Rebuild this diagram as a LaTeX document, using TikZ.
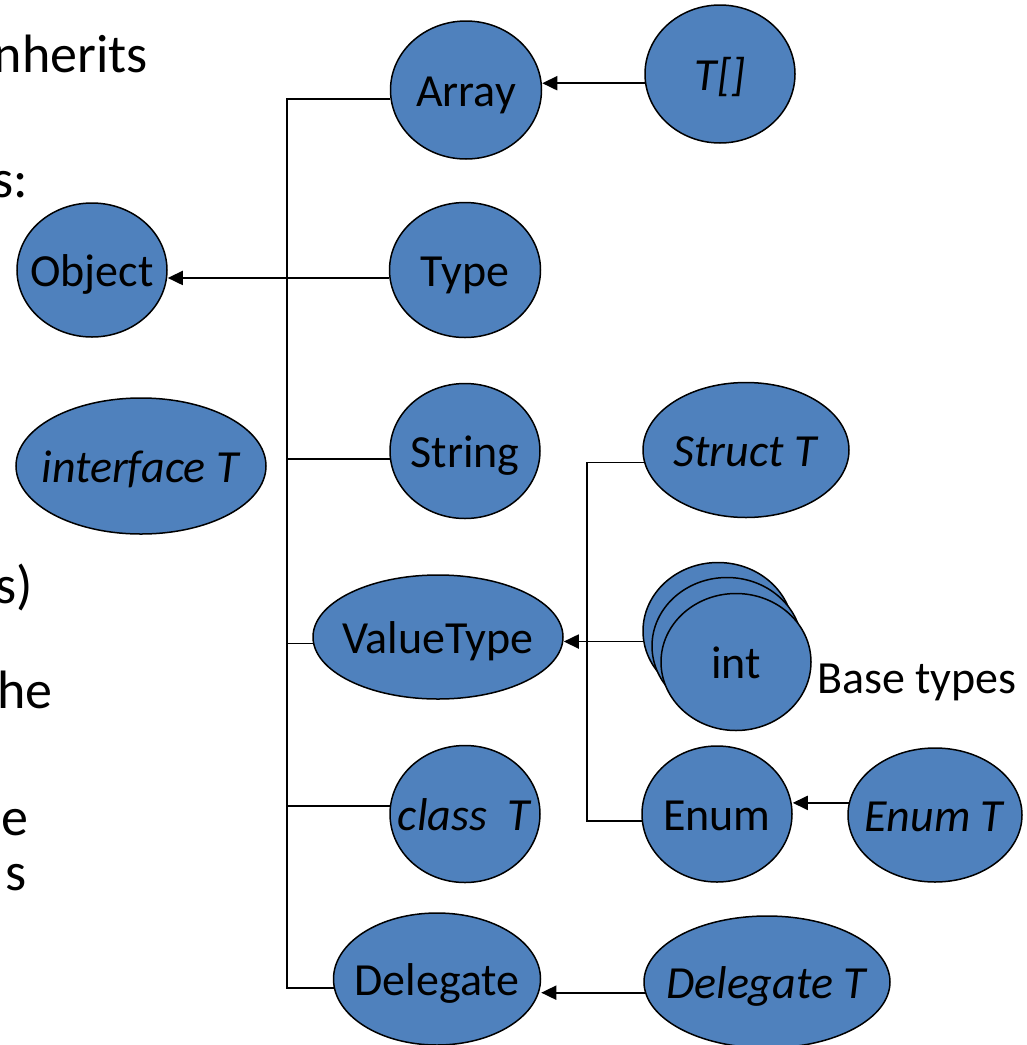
\documentclass[tikz,border=0pt]{standalone}
\usepackage{fontspec}
\setmainfont{Carlito}
\usetikzlibrary{arrows.meta,shapes.geometric}
\definecolor{blobfill}{HTML}{4F81BD}
\begin{document}
\begin{tikzpicture}[x=1pt,y=-1pt,
  blob/.style={ellipse, draw=black, line width=1.5pt, fill=blobfill, inner sep=0pt},
  sz/.style 2 args={minimum width=#1pt, minimum height=#2pt},
  lbl/.style={font=\fontsize{46}{55}\selectfont, text height=32pt, text depth=0pt, inner sep=0pt},
  side/.style={font=\fontsize{54}{64}\selectfont, inner sep=0pt},
  conn/.style={draw=black, line width=1.8pt},
  arr/.style={conn, -{Triangle[length=15pt,width=14pt]}}]
\useasboundingbox (0,0) rectangle (1027,1045);

% cut-off lines of body text on the left
\node[side, anchor=base east] (txa) at (148,72)  {nherits};
\node[side, anchor=base east] (txb) at (28,197)  {s:};
\node[side, anchor=base east] (txc) at (33,603)  {s)};
\node[side, anchor=base east] (txd) at (53,708)  {he};
\node[side, anchor=base east] (txe) at (29,835)  {e};
\node[side, anchor=base east] (txf) at (27,890)  {s};

% type nodes
\node[blob, sz={150}{134}, label={[lbl]center:Object}] (object) at (92,270) {};
\node[blob, sz={250}{136}, label={[lbl]center:\textit{interface T}}] (iface) at (141,466) {};

\node[blob, sz={151}{138}, label={[lbl]center:Array}] (array) at (466,90) {};
\node[blob, sz={150}{138}, label={[lbl]center:{\textit{T[]}}}] (tarr) at (720,74) {};
\node[blob, sz={151}{135}, label={[lbl]center:Type}] (type) at (465,270) {};
\node[blob, sz={150}{135}, label={[lbl]center:String}] (string) at (465,451) {};
\node[blob, sz={250}{124}, label={[lbl]center:ValueType}] (vt) at (438,637) {};
\node[blob, sz={150}{137}, label={[lbl]center:\textit{class\ \ T}}] (classT) at (465,814) {};
\node[blob, sz={207}{132}, label={[lbl]center:Delegate}] (delegate) at (437,979) {};
\node[blob, sz={246}{132}, label={[lbl]center:\textit{Delegate T}}] (delT) at (767,982) {};

\node[blob, sz={206}{135}, label={[lbl]center:\textit{Struct T}}] (struct) at (746,450) {};
\node[blob, sz={150}{137}] (int1) at (718,631) {};
\node[blob, sz={150}{137}] (int2) at (727,646) {};
\node[blob, sz={150}{137}, label={[lbl]center:int}] (int3) at (736,662) {};
\node[lbl, anchor=base west, text height=, text depth=] (base) at (817,693) {Base types};
\node[blob, sz={150}{136}, label={[lbl]center:Enum}] (enum) at (717,814) {};
\node[blob, sz={174}{134}, label={[lbl]center:\textit{Enum T}}] (enumT) at (935,815) {};

% main trunk
\coordinate (trunk) at (287,0);
\draw[conn] (array.187) -- (array.187 -| trunk) |- (delegate.185);
\draw[conn] (string.186) -- (string.186 -| trunk);
\draw[conn] (vt.183) -- (vt.183 -| trunk);
\draw[conn] (classT.174) -- (classT.174 -| trunk);
\draw[arr] (type.186) -- (type.186 -| object.east);

% value-type trunk
\coordinate (sub) at (587,0);
\draw[conn] (struct.187) -- (struct.187 -| sub) |- (enum.185);
\draw[arr] (int1.188) -- (int1.188 -| vt.east);

% generic instances
\draw[arr] (tarr.187) -- (tarr.187 -| array.east);
\draw[arr] (enumT.172) -- (enumT.172 -| enum.east);
\draw[arr] (delT.185) -- (delT.185 -| delegate.east);
\end{tikzpicture}
\end{document}
